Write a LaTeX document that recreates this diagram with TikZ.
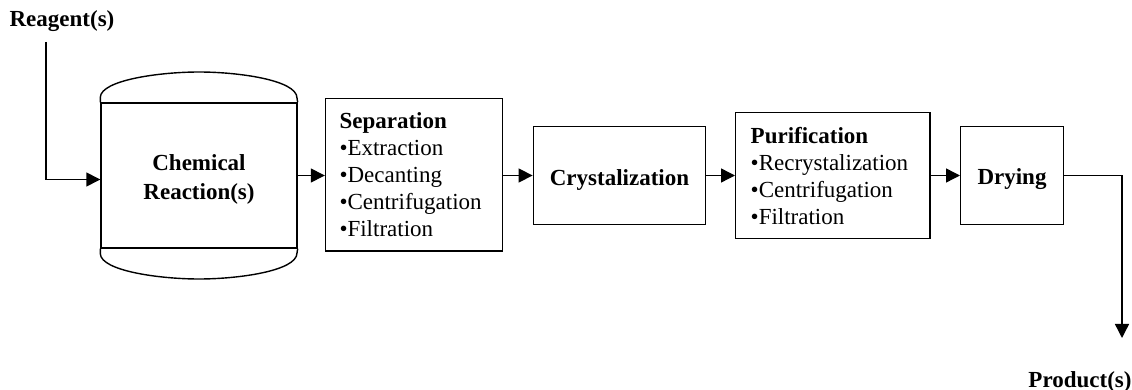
\documentclass[tikz,border=0pt]{standalone}
\usepackage{fontspec}
\setmainfont{Liberation Serif}
\usetikzlibrary{arrows.meta,positioning,calc}
\tikzset{
  >={Triangle[length=7pt,width=7pt]},
  box/.style={draw,line width=0.7pt,align=left,inner sep=0pt,font=\fontsize{11.5}{13.5}\selectfont},
  tag/.style={font=\fontsize{11.5}{13.5}\selectfont\bfseries},
  flow/.style={->,line width=0.7pt},
}
\newcommand{\toppad}{\rule{0pt}{12pt}}
\begin{document}
\begin{tikzpicture}[x=0.5pt,y=-0.5pt]
			\useasboundingbox (0,0) rectangle (1132,390);
			% Reaktor
			\node[box,align=center,minimum width=98pt,minimum height=72.5pt] (reactor) at (199,175.5) {\toppad\textbf{Chemical}\\[1pt]\textbf{Reaction(s)}};
			\draw[line width=0.7pt] (reactor.north west) -- ++(0,-5) .. controls (101,80) and (160,72) .. (199,72) .. controls (238,72) and (297,80) .. (297,98) -- (reactor.north east);
			\draw[line width=0.7pt] (reactor.south west) -- ++(0,5) .. controls (101,271) and (160,279) .. (199,279) .. controls (238,279) and (297,271) .. (297,253) -- (reactor.south east);
			% Stufen
			\node[box,minimum height=76.35pt,text width=74.5pt,inner xsep=7pt] (sep) at (414,174.7) {\textbf{Separation}\\•Extraction\\•Decanting\\•Centrifugation\\•Filtration};
			\node[box,align=center,minimum width=86.2pt,minimum height=48.8pt] (cryst) at (619.5,175.5) {\toppad\textbf{Crystalization}};
			\node[box,minimum height=63pt,text width=82.15pt,inner xsep=7.5pt] (purif) at (832.85,175.7) {\textbf{Purification}\\•Recrystalization\\•Centrifugation\\•Filtration};
			\node[box,align=center,minimum width=51.3pt,minimum height=48.8pt] (dry) at (1012,175.5) {\toppad\textbf{Drying}};
			% Ein- und Ausgang
			\node[tag] (reagent) at (62,21) {Reagent(s)};
			\node[tag] (product) at (1080,382) {Product(s)};
			\coordinate (feed) at (46,42);
			\coordinate (outlet) at (1122,338);
			% Pfeile
			\draw[flow] (feed) |- ([yshift=-2pt]reactor.west);
			\draw[flow] (reactor.east) -- (reactor.east -| sep.west);
			\draw[flow] (sep.east |- cryst.west) -- (cryst.west);
			\draw[flow] (cryst.east) -- (cryst.east -| purif.west);
			\draw[flow] (purif.east |- dry.west) -- (dry.west);
			\draw[flow] (dry.east) -| (outlet);
		\end{tikzpicture}
\end{document}
